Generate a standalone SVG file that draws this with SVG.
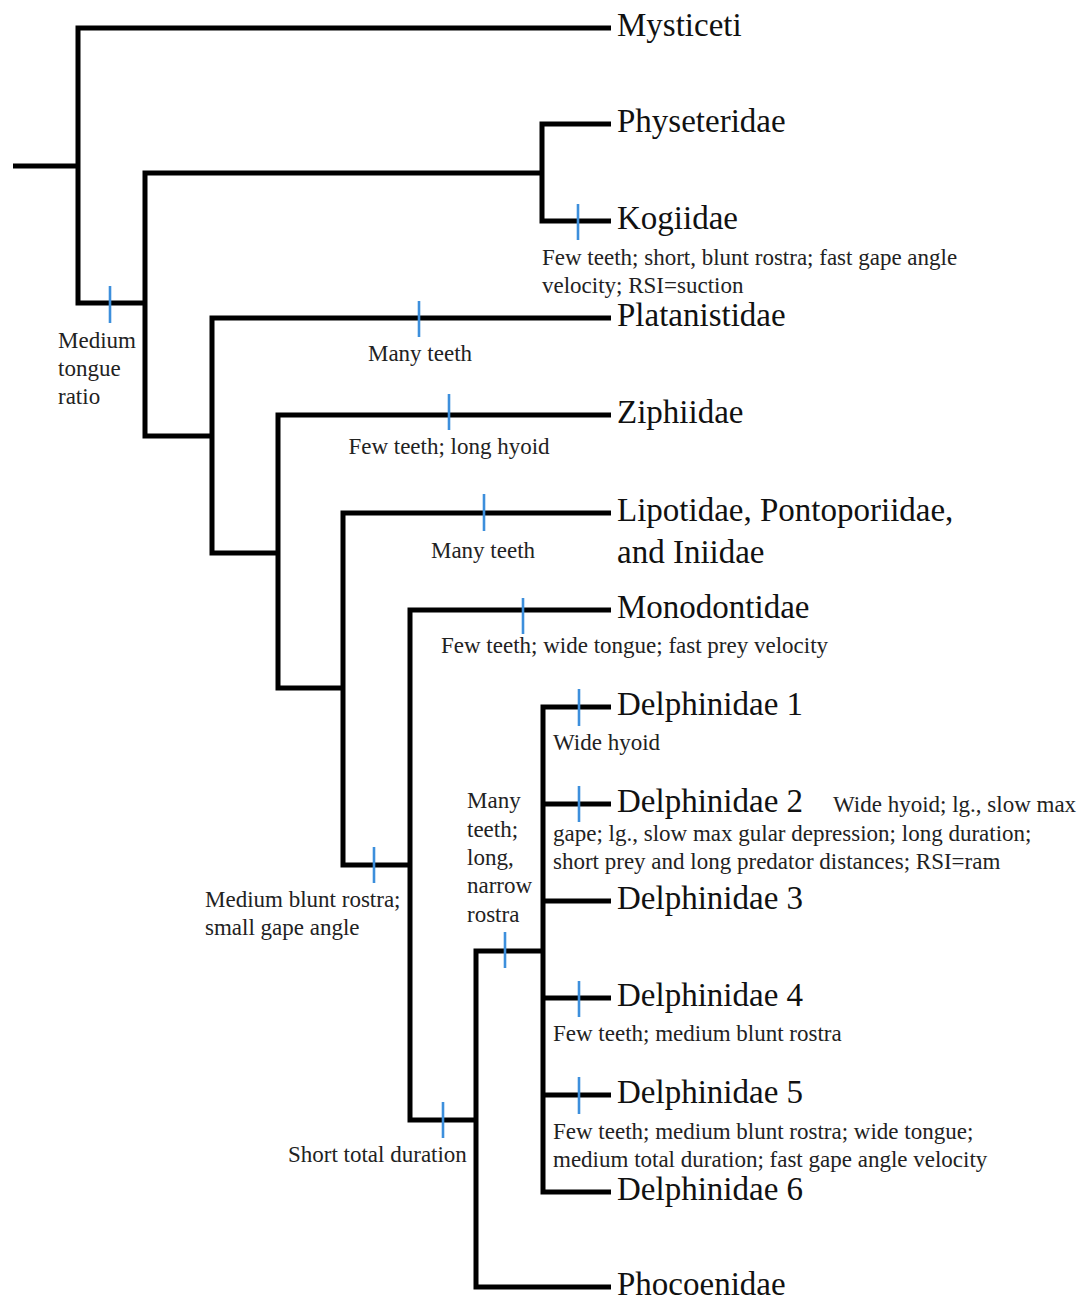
<svg xmlns="http://www.w3.org/2000/svg" width="1087" height="1300" viewBox="0 0 1087 1300">
<style>
.br{fill:none;stroke:#000;stroke-width:5;stroke-linejoin:miter;stroke-linecap:butt}
.tk{stroke:#3d8fdc;stroke-width:2.6}
.tx{font-family:"Liberation Serif","Times New Roman",serif;font-size:33px;fill:#111}
.nt{font-family:"Liberation Serif","Times New Roman",serif;font-size:23px;fill:#222}
.mid{text-anchor:middle}
</style>
<rect width="1087" height="1300" fill="#fff"/>
<g id="connectors">
<path class="br" d="M13,166 H78"/>
<path class="br" d="M611,28 H78 V303 H145"/>
<path class="br" d="M542,173 H145 V436 H212"/>
<path class="br" d="M611,124 H542 V221 H611"/>
<path class="br" d="M611,318 H212 V553 H278"/>
<path class="br" d="M611,415 H278 V688 H343"/>
<path class="br" d="M611,513 H343 V865 H410"/>
<path class="br" d="M611,610 H410 V1120 H476"/>
<path class="br" d="M543,951 H476 V1287 H611"/>
<path class="br" d="M611,707 H543 V1192 H611"/>
<path class="br" d="M543,804 H611 M543,901 H611 M543,998 H611 M543,1095 H611"/>
</g>
<g id="ticks">
<line class="tk" x1="110" y1="286" x2="110" y2="323"/>
<line class="tk" x1="578" y1="204" x2="578" y2="240"/>
<line class="tk" x1="419" y1="301" x2="419" y2="337"/>
<line class="tk" x1="449" y1="394" x2="449" y2="430"/>
<line class="tk" x1="484" y1="494" x2="484" y2="531"/>
<line class="tk" x1="523" y1="598" x2="523" y2="634"/>
<line class="tk" x1="374" y1="847" x2="374" y2="883"/>
<line class="tk" x1="579" y1="689" x2="579" y2="726"/>
<line class="tk" x1="579" y1="786" x2="579" y2="822"/>
<line class="tk" x1="505" y1="932" x2="505" y2="968"/>
<line class="tk" x1="579" y1="981" x2="579" y2="1017"/>
<line class="tk" x1="579" y1="1077" x2="579" y2="1114"/>
<line class="tk" x1="443" y1="1102" x2="443" y2="1138"/>
</g>
<g id="n-mysticeti"><text class="tx" x="617" y="36">Mysticeti</text></g>
<g id="n-physeteridae"><text class="tx" x="617" y="132">Physeteridae</text></g>
<g id="n-kogiidae"><text class="tx" x="617" y="229">Kogiidae</text>
<text class="nt" x="542" y="265">Few teeth; short, blunt rostra; fast gape angle</text>
<text class="nt" x="542" y="293">velocity; RSI=suction</text></g>
<g id="n-platanistidae"><text class="tx" x="617" y="326">Platanistidae</text>
<text class="nt mid" x="420" y="361">Many teeth</text></g>
<g id="n-ziphiidae"><text class="tx" x="617" y="423">Ziphiidae</text>
<text class="nt mid" x="449" y="454">Few teeth; long hyoid</text></g>
<g id="n-lipotidae"><text class="tx" x="617" y="521">Lipotidae, Pontoporiidae,</text>
<text class="tx" x="617" y="563">and Iniidae</text>
<text class="nt mid" x="483" y="558">Many teeth</text></g>
<g id="n-monodontidae"><text class="tx" x="617" y="618">Monodontidae</text>
<text class="nt" x="441" y="653">Few teeth; wide tongue; fast prey velocity</text></g>
<g id="n-delphinidae1"><text class="tx" x="617" y="715">Delphinidae 1</text>
<text class="nt" x="553" y="750">Wide hyoid</text></g>
<g id="n-delphinidae2"><text class="tx" x="617" y="812">Delphinidae 2</text>
<text class="nt" x="833" y="812">Wide hyoid; lg., slow max</text>
<text class="nt" x="553" y="841">gape; lg., slow max gular depression; long duration;</text>
<text class="nt" x="553" y="869">short prey and long predator distances; RSI=ram</text></g>
<g id="n-delphinidae3"><text class="tx" x="617" y="909">Delphinidae 3</text></g>
<g id="n-delphinidae4"><text class="tx" x="617" y="1006">Delphinidae 4</text>
<text class="nt" x="553" y="1041">Few teeth; medium blunt rostra</text></g>
<g id="n-delphinidae5"><text class="tx" x="617" y="1103">Delphinidae 5</text>
<text class="nt" x="553" y="1139">Few teeth; medium blunt rostra; wide tongue;</text>
<text class="nt" x="553" y="1167">medium total duration; fast gape angle velocity</text></g>
<g id="n-delphinidae6"><text class="tx" x="617" y="1200">Delphinidae 6</text></g>
<g id="n-phocoenidae"><text class="tx" x="617" y="1295">Phocoenidae</text></g>
<g id="n-medium-tongue"><text class="nt" x="58" y="348">Medium</text>
<text class="nt" x="58" y="376">tongue</text>
<text class="nt" x="58" y="404">ratio</text></g>
<g id="n-medium-blunt"><text class="nt" x="205" y="907">Medium blunt rostra;</text>
<text class="nt" x="205" y="935">small gape angle</text></g>
<g id="n-many-teeth-long"><text class="nt" x="467" y="808">Many</text>
<text class="nt" x="467" y="837">teeth;</text>
<text class="nt" x="467" y="865">long,</text>
<text class="nt" x="467" y="893">narrow</text>
<text class="nt" x="467" y="922">rostra</text></g>
<g id="n-short-duration"><text class="nt" x="288" y="1162">Short total duration</text></g>
</svg>
